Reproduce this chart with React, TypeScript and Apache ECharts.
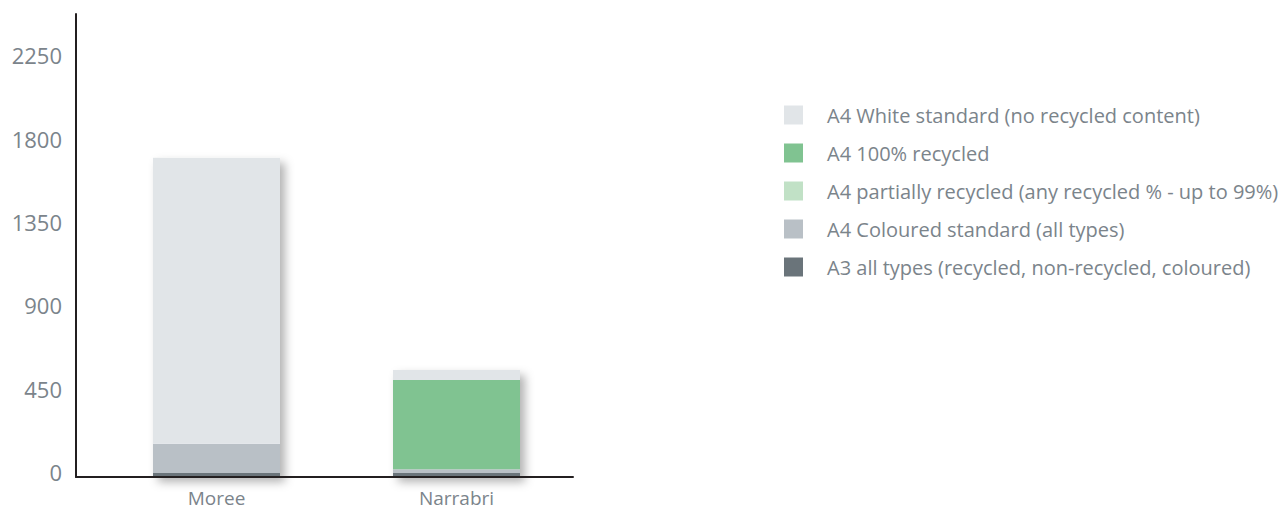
import React, { useEffect, useRef } from "react";
import * as echarts from "echarts";

const categories = ["Moree", "Narrabri"];
const a3AllTypes = [22, 22];
const a4Coloured = [157, 20];
const a4Partial = [0, 0];
const a4Recycled100 = [0, 482];
const a4White = [1545, 54];

const yMax = 2500;
const yInterval = 450;

const NAME_WHITE = "A4 White standard (no recycled content)";
const NAME_100 = "A4 100% recycled";
const NAME_PARTIAL = "A4 partially recycled (any recycled % - up to 99%)";
const NAME_COLOURED = "A4 Coloured standard (all types)";
const NAME_A3 = "A3 all types (recycled, non-recycled, coloured)";

const legendOrder = [NAME_WHITE, NAME_100, NAME_PARTIAL, NAME_COLOURED, NAME_A3];

const FONT = "'Open Sans', sans-serif";
const TEXT_COLOR = "#7b848b";
const AXIS_COLOR = "#231f20";

export default function App() {
  const ref = useRef<HTMLDivElement>(null);

  useEffect(() => {
    if (!ref.current) return;
    const chart = echarts.init(ref.current, null, { renderer: "svg" });
    const totals = categories.map(
      (_, i) => a3AllTypes[i] + a4Coloured[i] + a4Partial[i] + a4Recycled100[i] + a4White[i]
    );
    const barWidth = 127;
    const stacked = (name: string, data: number[], color: string) => ({
      name,
      type: "bar",
      stack: "total",
      xAxisIndex: 0,
      yAxisIndex: 0,
      barWidth,
      barGap: "-100%",
      data,
      itemStyle: { color },
      z: 3,
    });
    chart.setOption({
      animation: false,
      backgroundColor: "#ffffff",
      textStyle: { fontFamily: FONT },
      grid: [
        { left: 96.5, width: 480, top: 14, bottom: 31 },
        { left: 76, width: 497, top: 14, bottom: 31 },
      ],
      legend: {
        orient: "vertical",
        left: 779,
        top: 100,
        itemWidth: 19,
        itemHeight: 19,
        itemGap: 18,
        icon: "rect",
        data: legendOrder,
        selectedMode: false,
        textStyle: {
          fontFamily: FONT,
          fontSize: 20,
          color: TEXT_COLOR,
          padding: [0, 0, 0, 19],
        },
      },
      xAxis: [
        {
          type: "category",
          gridIndex: 0,
          data: categories,
          axisLine: { show: false },
          axisTick: { show: false },
          splitLine: { show: false },
          axisLabel: {
            fontFamily: FONT,
            fontSize: 19,
            lineHeight: 16,
            color: TEXT_COLOR,
            margin: 13,
          },
        },
        {
          type: "value",
          gridIndex: 1,
          min: 0,
          max: 1,
          z: 5,
          axisLine: { show: true, lineStyle: { color: AXIS_COLOR, width: 2 } },
          axisTick: { show: false },
          axisLabel: { show: false },
          splitLine: { show: false },
        },
      ],
      yAxis: [
        {
          type: "value",
          gridIndex: 0,
          min: 0,
          max: yMax,
          show: false,
          splitLine: { show: false },
        },
        {
          type: "value",
          gridIndex: 1,
          min: 0,
          max: yMax,
          interval: yInterval,
          z: 5,
          axisLine: { show: true, lineStyle: { color: AXIS_COLOR, width: 2 } },
          axisTick: { show: false },
          splitLine: { show: false },
          axisLabel: {
            fontFamily: FONT,
            fontSize: 22,
            color: TEXT_COLOR,
            margin: 14,
            verticalAlign: "bottom",
            lineHeight: 10,
            formatter: (v: number) => (v % yInterval === 0 ? String(v) : ""),
          },
        },
      ],
      series: [
        {
          name: "_shadow",
          type: "bar",
          xAxisIndex: 0,
          yAxisIndex: 0,
          barWidth,
          barGap: "-100%",
          data: totals,
          z: 1,
          silent: true,
          itemStyle: {
            color: "#ffffff",
            shadowBlur: 10,
            shadowOffsetX: 5,
            shadowOffsetY: 5,
            shadowColor: "rgba(0,0,0,0.3)",
          },
        },
        stacked(NAME_A3, a3AllTypes, "#6a747a"),
        stacked(NAME_COLOURED, a4Coloured, "#b9c0c6"),
        stacked(NAME_PARTIAL, a4Partial, "#c1e1c6"),
        stacked(NAME_100, a4Recycled100, "#80c391"),
        stacked(NAME_WHITE, a4White, "#e1e5e8"),
      ],
    });
    return () => chart.dispose();
  }, []);

  return (
    <div
      ref={ref}
      style={{ position: "absolute", left: 0, top: 0, width: 1286, height: 508 }}
    />
  );
}
